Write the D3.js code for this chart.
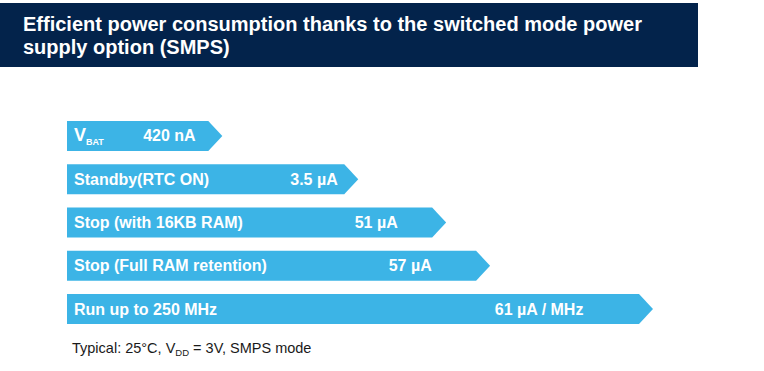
<!DOCTYPE html>
<html>
<head>
<meta charset="utf-8">
<script src="https://cdn.jsdelivr.net/npm/d3@7"></script>
<style>
  body { margin: 0; background: #fff; }
  svg { display: block; font-family: "Liberation Sans", Arial, sans-serif; }
</style>
</head>
<body>
<script>
// chart data
const titleLines = ["Efficient power consumption thanks to the switched mode power", "supply option (SMPS)"]
const modes = ["VBAT", "Standby(RTC ON)", "Stop (with 16KB RAM)", "Stop (Full RAM retention)", "Run up to 250 MHz"]
const valueLabels = ["420 nA", "3.5 µA", "51 µA", "57 µA", "61 µA / MHz"]
// relative arrow length, 0-100
const barLength = [26.5, 49.7, 64.7, 72.2, 100]
// where the value text starts along the same 0-100 scale
const valueAt = [13.0, 38.1, 49.1, 54.9, 73.0]

var W = 764, H = 371
var navy = '#03234b', blue = '#3cb4e6'

var svg = d3.select('body')
  .append('svg')
  .attr('width', W)
  .attr('height', H)

// header band
svg.append('rect')
  .attr('x', 0).attr('y', 3)
  .attr('width', 698).attr('height', 64)
  .attr('fill', navy)

svg.selectAll('.title')
  .data(titleLines)
  .enter()
  .append('text')
  .attr('class', 'title')
  .attr('x', 23)
  .attr('y', (d, i) => 31 + i * 23)
  .attr('fill', '#fff')
  .attr('font-size', 20)
  .attr('font-weight', 'bold')
  .text(d => d)

var x = d3.scaleLinear().domain([0, 100]).range([67, 653])
var y = d3.scaleBand().domain(modes).range([121, 324]).paddingInner(0.307).paddingOuter(0)

var tip = 14
function arrow(d, i) {
  var x0 = x(0), x1 = x(barLength[i]), y0 = y(d), h = y.bandwidth()
  return 'M' + x0 + ',' + y0 +
    'L' + (x1 - tip) + ',' + y0 +
    'L' + x1 + ',' + (y0 + h / 2) +
    'L' + (x1 - tip) + ',' + (y0 + h) +
    'L' + x0 + ',' + (y0 + h) + 'Z'
}

var rows = svg.selectAll('.row')
  .data(modes)
  .enter()
  .append('g')
  .attr('class', 'row')

rows.append('path')
  .attr('d', arrow)
  .attr('fill', blue)

// mode labels
rows.append('text')
  .attr('x', 74)
  .attr('y', d => y(d) + y.bandwidth() / 2 + 5.5)
  .attr('fill', '#fff')
  .attr('font-size', 16)
  .attr('font-weight', 'bold')
  .each(function (d) {
    var t = d3.select(this)
    if (d == 'VBAT') {
      t.append('tspan').attr('font-size', 18).text('V')
      t.append('tspan').attr('font-size', 9).attr('dy', 4).text('BAT')
    } else {
      t.text(d)
    }
  })

// value labels
rows.append('text')
  .attr('x', (d, i) => x(valueAt[i]))
  .attr('y', d => y(d) + y.bandwidth() / 2 + 5.5)
  .attr('fill', '#fff')
  .attr('font-size', 16)
  .attr('font-weight', 'bold')
  .text((d, i) => valueLabels[i])

// footnote
var note = svg.append('text')
  .attr('x', 72)
  .attr('y', 353)
  .attr('fill', '#1a1a1a')
  .attr('font-size', 14.5)
note.append('tspan').text('Typical: 25°C, V')
note.append('tspan').attr('font-size', 9.5).attr('dy', 3).text('DD')
note.append('tspan').attr('dy', -3).text(' = 3V, SMPS mode')
</script>
</body>
</html>
